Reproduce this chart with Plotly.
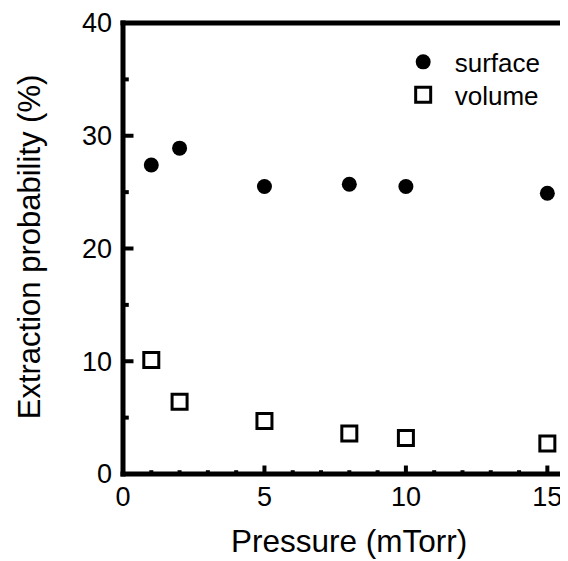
import plotly.graph_objects as go

pressure = [1, 2, 5, 8, 10, 15]
surface = [27.4, 28.9, 25.5, 25.7, 25.5, 24.9]
volume = [10.1, 6.4, 4.7, 3.6, 3.2, 2.7]

x_major = [0, 5, 10, 15]
x_minor = [1, 2, 3, 4, 6, 7, 8, 9, 11, 12, 13, 14]
y_major = [0, 10, 20, 30, 40]
y_minor = [5, 15, 25, 35]

FONT = "Liberation Sans, Arial, sans-serif"
GAP = "\u00a0\u2006"
XR = [0, 15.73]
YR = [0, 40]
INK = "black"

W, H = 560, 553
ML, MR, MT, MB = 114.5, 0, 14.5, 86.8
PW = W - ML - MR
PH = H - MT - MB

fig = go.Figure()
fig.add_trace(go.Scatter(x=pressure, y=surface, mode="markers", name=GAP + "surface",
                         legend="legend",
                         marker=dict(symbol="circle", size=15, color="black")))
fig.add_trace(go.Scatter(x=pressure, y=volume, mode="markers", name=GAP + "volume",
                         legend="legend2",
                         marker=dict(symbol="square-open", size=15, color="black",
                                     line=dict(width=3, color="black"))))

shapes = []
ext_x = 2.5 / PW
ext_y = 2.5 / PH
# spines (left, bottom, top)
shapes.append(dict(type="line", xref="paper", yref="paper", x0=0, x1=0,
                   y0=-ext_y, y1=1 + ext_y, line=dict(color=INK, width=5)))
shapes.append(dict(type="line", xref="paper", yref="paper", x0=-ext_x, x1=1,
                   y0=0, y1=0, line=dict(color=INK, width=5)))
shapes.append(dict(type="line", xref="paper", yref="paper", x0=-ext_x, x1=1,
                   y0=1, y1=1, line=dict(color=INK, width=5)))
# inside tick marks, placed through the axis scales
for v, ln in [(v, 8.5) for v in x_major] + [(v, 3.8) for v in x_minor]:
    shapes.append(dict(type="line", xref="x", yref="paper", x0=v, x1=v,
                       y0=0, y1=ln / PH, line=dict(color=INK, width=4)))
for v, ln in [(v, 10.5) for v in y_major] + [(v, 5.8) for v in y_minor]:
    shapes.append(dict(type="line", xref="paper", yref="y", x0=0, x1=ln / PW,
                       y0=v, y1=v, line=dict(color=INK, width=4)))

leg = dict(xanchor="left", yanchor="top", bgcolor="rgba(0,0,0,0)",
           font=dict(size=26, family=FONT, color="black"))

fig.update_layout(
    width=W, height=H,
    margin=dict(l=ML, r=MR, t=MT, b=MB),
    plot_bgcolor="white", paper_bgcolor="white",
    font=dict(family=FONT, color="black", size=27),
    showlegend=True,
    legend=dict(x=0.6296, y=0.9657, **leg),
    legend2=dict(x=0.6296, y=0.8926, **leg),
    xaxis=dict(range=XR, tickmode="array", tickvals=x_major, ticks="",
               showline=False, showgrid=False, zeroline=False,
               ticklabelstandoff=4, ticklabeloverflow="allow",
               tickfont=dict(size=27, family=FONT)),
    yaxis=dict(range=YR, tickmode="array", tickvals=y_major, ticks="",
               showline=False, showgrid=False, zeroline=False,
               ticklabelstandoff=10, ticklabeloverflow="allow",
               tickfont=dict(size=27, family=FONT)),
    shapes=shapes,
    annotations=[
        dict(text="Pressure (mTorr)", xref="paper", yref="paper", x=0.5084,
             y=-0.1479, xanchor="center", yanchor="middle", showarrow=False,
             font=dict(size=31.5, family=FONT)),
        dict(text="Extraction probability (%)", xref="paper", yref="paper",
             x=-0.2099, y=0.5041, xanchor="center", yanchor="middle",
             textangle=-90, showarrow=False, font=dict(size=31, family=FONT)),
    ],
)

fig.write_html("out.html")
